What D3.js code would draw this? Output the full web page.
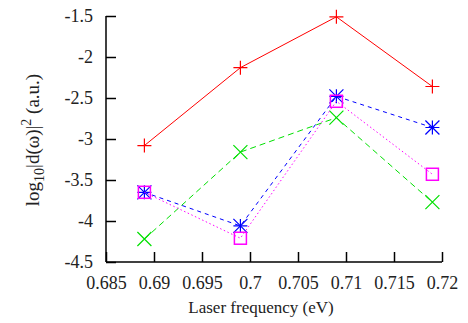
<!DOCTYPE html>
<html>
<head>
<meta charset="utf-8">
<script src="https://cdn.jsdelivr.net/npm/d3@7"></script>
<style>
  body { margin: 0; background: #fff; }
  svg text { font-family: "Liberation Serif", "Times New Roman", Times, "DejaVu Serif", serif !important; }
</style>
</head>
<body>
<div id="chart"></div>
<script>
const freqs = [0.689, 0.699, 0.709, 0.719];
const redVals = [-3.08, -2.13, -1.51, -2.36];
const greenVals = [-4.22, -3.16, -2.74, -3.77];
const blueVals = [-3.65, -4.06, -2.48, -2.86];
const magentaVals = [-3.65, -4.21, -2.54, -3.43];
const xTicks = [0.685, 0.69, 0.695, 0.7, 0.705, 0.71, 0.715, 0.72];
const yTicks = [-1.5, -2, -2.5, -3, -3.5, -4, -4.5];

const series = [
    { vals: redVals, color: "#ff0000", dash: null, marker: "plus" },
    { vals: greenVals, color: "#00e000", dash: "6,4", marker: "cross" },
    { vals: blueVals, color: "#0000ff", dash: "4,4", marker: "star" },
    { vals: magentaVals, color: "#ff00ff", dash: "1.5,2.5", marker: "square" }
];

const W = 468, H = 323;
const margin = { top: 16, right: 26, bottom: 61, left: 106 };
const width = W - margin.left - margin.right;
const height = H - margin.top - margin.bottom;

const svg = d3.select("#chart").append("svg")
    .attr("width", W)
    .attr("height", H);
const g = svg.append("g")
    .attr("transform", `translate(${margin.left},${margin.top})`);

const x = d3.scaleLinear().domain([0.685, 0.72]).range([0, width]);
const y = d3.scaleLinear().domain([-4.5, -1.5]).range([height, 0]);

// axes, ticks inward
const xAxis = g.append("g")
    .attr("transform", `translate(0,${height})`)
    .call(d3.axisBottom(x).tickValues(xTicks).tickSize(-10).tickPadding(14).tickFormat(d => String(+d.toFixed(3))));
const yAxis = g.append("g")
    .call(d3.axisLeft(y).tickValues(yTicks).tickSize(-10).tickPadding(13).tickFormat(d => String(d)));

[xAxis, yAxis].forEach(a => {
    a.attr("font-family", null);
    a.select(".domain").attr("stroke", "#000").attr("stroke-width", 1.5);
    a.selectAll(".tick line").attr("stroke", "#000").attr("stroke-width", 1.5);
    a.selectAll(".tick text")
        .attr("font-size", 18)
        .attr("fill", "#222");
});
xAxis.select(".domain").attr("d", `M0,0H${width}`);
yAxis.select(".domain").attr("d", `M0,${height}V0`);

const line = d3.line()
    .x((d, i) => x(freqs[i]))
    .y(d => y(d));

series.forEach(s => {
    g.append("path")
        .datum(s.vals)
        .attr("d", line)
        .attr("fill", "none")
        .attr("stroke", s.color)
        .attr("stroke-width", 1)
        .attr("stroke-dasharray", s.dash);

    const m = g.append("g").selectAll("g")
        .data(s.vals)
        .join("g")
        .attr("transform", (d, i) => `translate(${x(freqs[i])},${y(d)})`);
    const r = 7;
    if (s.marker === "plus" || s.marker === "star") {
        m.append("path").attr("d", `M${-r},0H${r}M0,${-r}V${r}`)
            .attr("stroke", s.color).attr("stroke-width", 1.2);
    }
    if (s.marker === "cross" || s.marker === "star") {
        m.append("path").attr("d", `M${-r},${-r}L${r},${r}M${-r},${r}L${r},${-r}`)
            .attr("stroke", s.color).attr("stroke-width", 1.2);
    }
    if (s.marker === "square") {
        m.append("rect").attr("x", -6).attr("y", -6).attr("width", 12).attr("height", 12)
            .attr("fill", "none").attr("stroke", s.color).attr("stroke-width", 1.5);
    }
});

// axis labels
svg.append("text")
    .attr("x", 261)
    .attr("y", 313)
    .attr("text-anchor", "middle")
    .attr("font-size", 17)
    .attr("fill", "#222")
    .text("Laser frequency (eV)");

const yl = svg.append("text")
    .attr("transform", `translate(39,140) rotate(-90)`)
    .attr("text-anchor", "middle")
    .attr("font-size", 19)
    .attr("fill", "#222");
yl.append("tspan").text("log");
yl.append("tspan").attr("font-size", 14).attr("dy", 5).text("10");
yl.append("tspan").attr("dy", -5).text("|d(ω)|");
yl.append("tspan").attr("font-size", 14).attr("dy", -8).text("2");
yl.append("tspan").attr("dy", 8).text("  (a.u.)");
</script>
</body>
</html>
